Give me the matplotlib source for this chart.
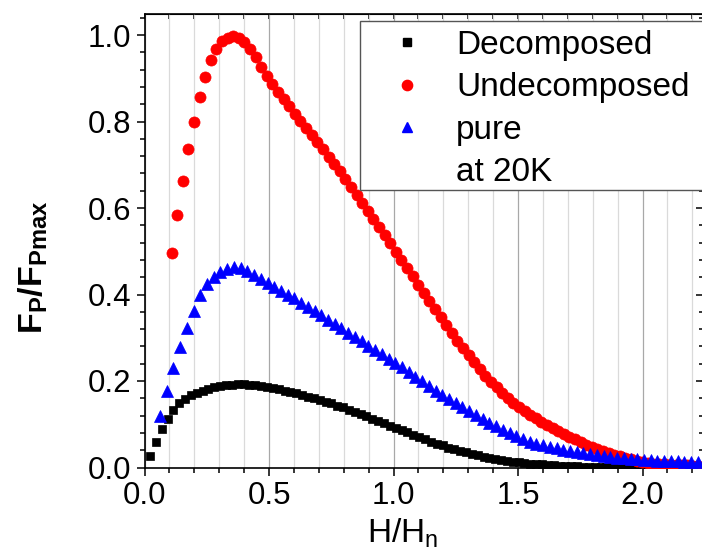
import numpy as np
import matplotlib
matplotlib.use("Agg")
import matplotlib.pyplot as plt
from matplotlib.lines import Line2D
from matplotlib.patches import Rectangle
from matplotlib.ticker import MultipleLocator

plt.rcParams["font.family"] = ["Liberation Sans", "DejaVu Sans"]
plt.rcParams["mathtext.fontset"] = "custom"
plt.rcParams["mathtext.rm"] = "Liberation Sans"
plt.rcParams["mathtext.it"] = "Liberation Sans:italic"
plt.rcParams["mathtext.bf"] = "Liberation Sans:bold"

# ---- data: normalized pinning force vs reduced field ----
# field grids (evenly sampled, start / step / count per sample)
h_decomposed = np.round(0.022 + 0.0235 * np.arange(95), 4)
h_undecomposed = np.round(0.109 + 0.0225 * np.arange(95), 4)
h_pure = np.round(0.062 + 0.027 * np.arange(81), 4)

fp_decomposed = [
    0.027, 0.060, 0.089, 0.113, 0.133, 0.148, 0.159, 0.167, 0.173, 0.178,
    0.182, 0.185, 0.188, 0.190, 0.191, 0.192, 0.192, 0.191, 0.190, 0.188,
    0.186, 0.184, 0.181, 0.178, 0.175, 0.172, 0.168, 0.164, 0.160, 0.156,
    0.152, 0.148, 0.143, 0.139, 0.134, 0.129, 0.124, 0.119, 0.113, 0.108,
    0.103, 0.097, 0.092, 0.086, 0.081, 0.075, 0.070, 0.065, 0.060, 0.055,
    0.051, 0.046, 0.042, 0.038, 0.035, 0.031, 0.028, 0.025, 0.022, 0.020,
    0.017, 0.015, 0.013, 0.012, 0.010, 0.009, 0.008, 0.007, 0.006, 0.005,
    0.004, 0.004, 0.003, 0.003, 0.002, 0.002, 0.002, 0.001, 0.001, 0.001,
    0.001, 0.001, 0.001, 0.001, 0.001, 0.001, 0.001, 0.001, 0.001, 0.001,
    0.001, 0.001, 0.001, 0.001, 0.001,
]

fp_undecomposed = [
    0.495, 0.583, 0.662, 0.736, 0.800, 0.856, 0.903, 0.942, 0.968, 0.985,
    0.994, 0.997, 0.994, 0.984, 0.967, 0.948, 0.926, 0.905, 0.886, 0.869,
    0.852, 0.835, 0.818, 0.801, 0.785, 0.769, 0.753, 0.736, 0.719, 0.702,
    0.685, 0.667, 0.649, 0.631, 0.612, 0.594, 0.575, 0.556, 0.537, 0.518,
    0.499, 0.480, 0.461, 0.442, 0.423, 0.404, 0.385, 0.366, 0.347, 0.329,
    0.311, 0.293, 0.276, 0.259, 0.243, 0.227, 0.212, 0.198, 0.185, 0.172,
    0.161, 0.150, 0.140, 0.131, 0.122, 0.114, 0.106, 0.098, 0.091, 0.084,
    0.077, 0.071, 0.065, 0.059, 0.053, 0.048, 0.043, 0.038, 0.034, 0.030,
    0.026, 0.022, 0.019, 0.016, 0.013, 0.011, 0.009, 0.008, 0.007, 0.006,
    0.006, 0.005, 0.005, 0.004, 0.004,
]

fp_pure = [
    0.120, 0.178, 0.231, 0.279, 0.322, 0.363, 0.398, 0.424, 0.441, 0.453,
    0.460, 0.463, 0.461, 0.455, 0.446, 0.436, 0.427, 0.418, 0.409, 0.400,
    0.391, 0.381, 0.371, 0.361, 0.352, 0.342, 0.332, 0.322, 0.312, 0.302,
    0.292, 0.282, 0.272, 0.262, 0.252, 0.242, 0.232, 0.221, 0.210, 0.199,
    0.188, 0.178, 0.168, 0.158, 0.149, 0.140, 0.131, 0.122, 0.113, 0.104,
    0.095, 0.087, 0.079, 0.072, 0.066, 0.060, 0.055, 0.051, 0.047, 0.044,
    0.041, 0.038, 0.036, 0.033, 0.031, 0.029, 0.027, 0.025, 0.023, 0.022,
    0.020, 0.019, 0.018, 0.017, 0.016, 0.015, 0.014, 0.014, 0.013, 0.013,
    0.012,
]

labels = ["Decomposed", "Undecomposed", "pure", "at 20K"]
xtick_labels = ["0.0", "0.5", "1.0", "1.5", "2.0"]
ytick_labels = ["0.0", "0.2", "0.4", "0.6", "0.8", "1.0"]

# marker styles
MS_SQ, MS_CI, MS_TR = 6.3, 8.0, 8.8
RED, BLUE = "#ff0000", "#0000ff"

# ---- figure ----
W, H = 702, 551
fig = plt.figure(figsize=(W / 100, H / 100), dpi=100)
fig.patch.set_facecolor("white")

x0_px, x1_px = 144.5, 703.0
ytop_px, ybot_px = 14.0, 467.5
ax = fig.add_axes([x0_px / W, 1 - ybot_px / H,
                   (x1_px - x0_px) / W, (ybot_px - ytop_px) / H])

ax.plot(h_decomposed, fp_decomposed, ls="none", marker="s", ms=MS_SQ,
        color="black", mec="black", mew=0.5, zorder=3)
ax.plot(h_undecomposed, fp_undecomposed, ls="none", marker="o", ms=MS_CI,
        color=RED, mec=RED, mew=0.5, zorder=4)
ax.plot(h_pure, fp_pure, ls="none", marker="^", ms=MS_TR,
        color=BLUE, mec=BLUE, mew=0.5, zorder=5)

ax.set_xlim(0, (x1_px - x0_px) / 249.0)
ax.set_ylim(0, (ybot_px - ytop_px) / 432.5)

ax.xaxis.set_major_locator(MultipleLocator(0.5))
ax.xaxis.set_minor_locator(MultipleLocator(0.1))
ax.yaxis.set_major_locator(MultipleLocator(0.2))
ax.yaxis.set_minor_locator(MultipleLocator(0.04))
ax.set_xticks([0.0, 0.5, 1.0, 1.5, 2.0])
ax.set_xticklabels(xtick_labels)
ax.set_yticks([0.0, 0.2, 0.4, 0.6, 0.8, 1.0])
ax.set_yticklabels(ytick_labels)

# vertical grid: light at minor, darker at major
ax.set_axisbelow(True)
ax.grid(True, axis="x", which="minor", color="#dadada", lw=0.9)
ax.grid(True, axis="x", which="major", color="#a8a8a8", lw=0.9)

for s in ax.spines.values():
    s.set_linewidth(1.2)
    s.set_color("black")

ax.tick_params(axis="both", which="both", direction="out", width=1.1,
               colors="black", labelsize=22.5)
ax.tick_params(axis="both", which="major", length=5.5)
ax.tick_params(axis="both", which="minor", length=3.6)
ax.tick_params(axis="y", which="major", pad=4)
ax.tick_params(axis="x", which="major", pad=4)

# mirrored inward ticks on top and right
axt = ax.secondary_xaxis("top")
axt.xaxis.set_major_locator(MultipleLocator(0.5))
axt.xaxis.set_minor_locator(MultipleLocator(0.1))
axt.tick_params(which="both", direction="in", length=3.3, width=1.1,
                labeltop=False)
axr = ax.secondary_yaxis("right")
axr.yaxis.set_major_locator(MultipleLocator(0.2))
axr.yaxis.set_minor_locator(MultipleLocator(0.04))
axr.tick_params(which="major", direction="in", length=5.2, width=1.1,
                labelright=False)
axr.tick_params(which="minor", direction="in", length=3.0, width=1.1,
                labelright=False)

# legend box running off the right edge
fig.patches.append(Rectangle((360 / W, 1 - 190 / H), (720 - 360) / W,
                             (190 - 21) / H, transform=fig.transFigure,
                             facecolor="white", edgecolor="#555555",
                             lw=1.0, zorder=9))

# legend entries (last row is a text-only continuation line)
handles = [
    Line2D([], [], ls="none", marker="s", ms=6.0, color="black"),
    Line2D([], [], ls="none", marker="o", ms=7.4, color=RED),
    Line2D([], [], ls="none", marker="^", ms=7.8, color=BLUE),
    Line2D([], [], ls="none", marker=None),
]
leg = fig.legend(handles, labels, loc="upper left",
                 bbox_to_anchor=(360 / W, 1 - 24 / H),
                 bbox_transform=fig.transFigure, borderaxespad=0,
                 fontsize=24, frameon=False,
                 borderpad=0.18, handlelength=2.46, handletextpad=0.24,
                 labelspacing=0.34)
leg.set_zorder(10)

# axis titles
fig.text(33.5 / W, 1 - 267 / H, r"$\mathbf{F_{P}/F_{Pmax}}$", rotation=90,
         ha="center", va="center", fontsize=24.5)
fig.text(402.5 / W, 1 - 543 / H, r"$\mathrm{H/H_{n}}$", ha="center",
         va="baseline", fontsize=24)

fig.savefig("out.png", dpi=100, facecolor="white")
